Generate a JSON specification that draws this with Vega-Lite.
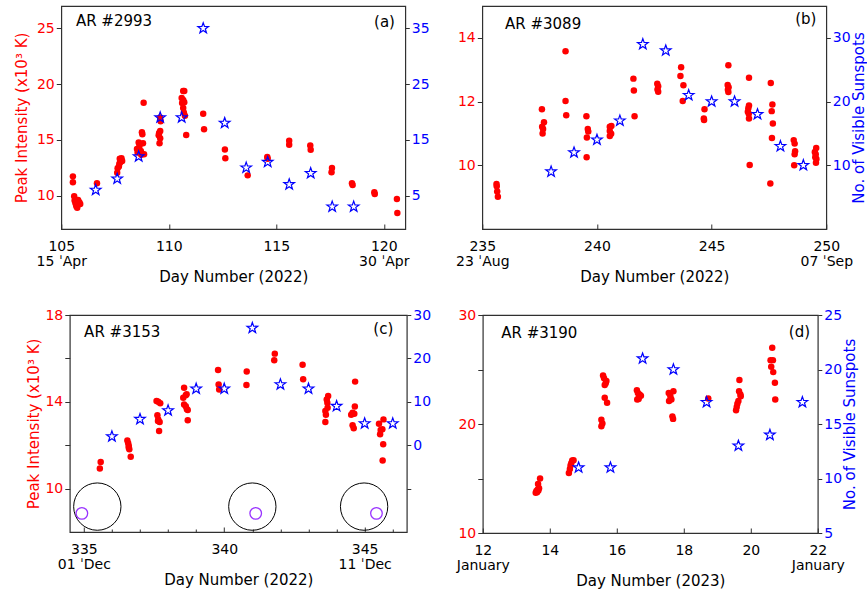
{
  "$schema": "https://vega.github.io/schema/vega-lite/v6.json",
  "autosize": {"type": "pad"},
  "padding": {"left": 13, "top": 5, "right": 0, "bottom": 0},
  "datasets": {
    "peak": [
      {"p":"a","d":105.54,"v":11.72},{"p":"a","d":105.54,"v":11.19},{"p":"a","d":105.6,"v":9.93},{"p":"a","d":105.62,"v":9.55},
      {"p":"a","d":105.66,"v":9.3},{"p":"a","d":105.7,"v":9.05},{"p":"a","d":105.74,"v":8.9},{"p":"a","d":105.8,"v":9.2},
      {"p":"a","d":105.84,"v":9.4},{"p":"a","d":105.88,"v":9.25},{"p":"a","d":105.78,"v":9.6},{"p":"a","d":105.72,"v":9.15},
      {"p":"a","d":106.66,"v":11.1},
      {"p":"a","d":107.6,"v":12.05},{"p":"a","d":107.62,"v":12.45},{"p":"a","d":107.68,"v":12.6},{"p":"a","d":107.7,"v":12.85},
      {"p":"a","d":107.75,"v":13.0},{"p":"a","d":107.78,"v":13.2},{"p":"a","d":107.8,"v":13.35},{"p":"a","d":107.72,"v":13.3},{"p":"a","d":107.83,"v":13.1},
      {"p":"a","d":108.52,"v":14.17},{"p":"a","d":108.55,"v":13.85},{"p":"a","d":108.6,"v":14.75},{"p":"a","d":108.63,"v":14.4},
      {"p":"a","d":108.66,"v":14.65},{"p":"a","d":108.7,"v":14.0},{"p":"a","d":108.75,"v":15.67},{"p":"a","d":108.77,"v":15.5},
      {"p":"a","d":108.8,"v":14.7},{"p":"a","d":108.83,"v":18.33},{"p":"a","d":108.85,"v":13.7},{"p":"a","d":108.72,"v":13.65},
      {"p":"a","d":109.6,"v":17.0},{"p":"a","d":109.62,"v":16.66},{"p":"a","d":109.6,"v":15.8},{"p":"a","d":109.55,"v":15.6},
      {"p":"a","d":109.53,"v":15.4},{"p":"a","d":109.6,"v":15.15},{"p":"a","d":109.57,"v":14.7},
      {"p":"a","d":110.6,"v":18.75},{"p":"a","d":110.67,"v":19.38},{"p":"a","d":110.72,"v":19.38},{"p":"a","d":110.67,"v":18.57},
      {"p":"a","d":110.72,"v":18.36},{"p":"a","d":110.62,"v":18.3},{"p":"a","d":110.67,"v":17.85},{"p":"a","d":110.7,"v":17.46},
      {"p":"a","d":110.75,"v":17.16},{"p":"a","d":110.81,"v":15.43},
      {"p":"a","d":111.6,"v":17.34},{"p":"a","d":111.64,"v":15.94},{"p":"a","d":112.61,"v":14.14},{"p":"a","d":112.63,"v":13.34},
      {"p":"a","d":113.67,"v":11.81},{"p":"a","d":114.58,"v":13.46},{"p":"a","d":114.6,"v":13.3},{"p":"a","d":115.6,"v":14.92},
      {"p":"a","d":115.6,"v":14.56},{"p":"a","d":116.58,"v":14.5},{"p":"a","d":116.6,"v":14.1},{"p":"a","d":117.59,"v":12.47},
      {"p":"a","d":117.57,"v":12.08},{"p":"a","d":118.52,"v":11.1},{"p":"a","d":118.55,"v":10.95},{"p":"a","d":119.56,"v":10.29},
      {"p":"a","d":119.58,"v":10.14},{"p":"a","d":120.61,"v":9.69},{"p":"a","d":120.63,"v":8.43},

      {"p":"b","d":235.62,"v":9.41},{"p":"b","d":235.63,"v":9.34},{"p":"b","d":235.65,"v":9.18},{"p":"b","d":235.68,"v":9.01},
      {"p":"b","d":237.6,"v":11.76},{"p":"b","d":237.69,"v":11.35},{"p":"b","d":237.61,"v":11.21},{"p":"b","d":237.65,"v":11.14},{"p":"b","d":237.63,"v":11.0},
      {"p":"b","d":238.63,"v":13.58},{"p":"b","d":238.63,"v":12.02},{"p":"b","d":238.66,"v":11.57},
      {"p":"b","d":239.54,"v":11.54},{"p":"b","d":239.6,"v":11.14},{"p":"b","d":239.62,"v":11.06},{"p":"b","d":239.56,"v":10.87},{"p":"b","d":239.55,"v":10.25},
      {"p":"b","d":240.56,"v":11.21},{"p":"b","d":240.63,"v":11.23},{"p":"b","d":240.56,"v":11.08},{"p":"b","d":240.62,"v":10.99},{"p":"b","d":240.56,"v":10.92},
      {"p":"b","d":241.59,"v":12.72},{"p":"b","d":241.61,"v":12.35},{"p":"b","d":241.64,"v":11.54},
      {"p":"b","d":242.63,"v":12.56},{"p":"b","d":242.67,"v":12.48},{"p":"b","d":242.64,"v":12.38},{"p":"b","d":242.67,"v":12.31},
      {"p":"b","d":243.67,"v":13.08},{"p":"b","d":243.64,"v":12.8},{"p":"b","d":243.77,"v":12.51},{"p":"b","d":243.74,"v":12.02},
      {"p":"b","d":244.69,"v":11.76},{"p":"b","d":244.66,"v":11.47},{"p":"b","d":244.67,"v":11.42},
      {"p":"b","d":245.73,"v":13.14},{"p":"b","d":245.7,"v":12.52},{"p":"b","d":245.74,"v":12.45},{"p":"b","d":245.71,"v":12.37},{"p":"b","d":245.73,"v":12.3},
      {"p":"b","d":246.63,"v":12.75},{"p":"b","d":246.63,"v":11.88},{"p":"b","d":246.6,"v":11.79},{"p":"b","d":246.58,"v":11.68},
      {"p":"b","d":246.62,"v":11.62},{"p":"b","d":246.63,"v":11.47},{"p":"b","d":246.66,"v":10.01},
      {"p":"b","d":247.58,"v":12.58},{"p":"b","d":247.65,"v":11.91},{"p":"b","d":247.62,"v":11.7},{"p":"b","d":247.67,"v":11.31},
      {"p":"b","d":247.63,"v":10.86},{"p":"b","d":247.56,"v":9.43},
      {"p":"b","d":248.58,"v":10.79},{"p":"b","d":248.62,"v":10.68},{"p":"b","d":248.64,"v":10.44},{"p":"b","d":248.62,"v":10.35},{"p":"b","d":248.6,"v":10.0},
      {"p":"b","d":249.56,"v":10.54},{"p":"b","d":249.5,"v":10.42},{"p":"b","d":249.54,"v":10.35},{"p":"b","d":249.52,"v":10.25},
      {"p":"b","d":249.57,"v":10.2},{"p":"b","d":249.55,"v":10.08},

      {"p":"c","d":335.57,"v":10.93},{"p":"c","d":335.6,"v":11.23},
      {"p":"c","d":336.55,"v":12.22},{"p":"c","d":336.58,"v":12.09},{"p":"c","d":336.6,"v":11.96},{"p":"c","d":336.62,"v":11.81},
      {"p":"c","d":336.67,"v":11.47},{"p":"c","d":336.6,"v":11.88},
      {"p":"c","d":337.59,"v":14.04},{"p":"c","d":337.65,"v":14.0},{"p":"c","d":337.72,"v":13.93},{"p":"c","d":337.62,"v":13.38},
      {"p":"c","d":337.65,"v":13.19},{"p":"c","d":337.7,"v":13.07},{"p":"c","d":337.64,"v":13.12},{"p":"c","d":337.68,"v":12.65},
      {"p":"c","d":338.57,"v":14.65},{"p":"c","d":338.54,"v":14.19},{"p":"c","d":338.63,"v":14.3},{"p":"c","d":338.66,"v":14.35},
      {"p":"c","d":338.57,"v":13.88},{"p":"c","d":338.63,"v":13.8},{"p":"c","d":338.7,"v":13.62},{"p":"c","d":338.67,"v":13.66},{"p":"c","d":338.7,"v":13.15},
      {"p":"c","d":339.78,"v":15.47},{"p":"c","d":339.8,"v":14.8},{"p":"c","d":339.82,"v":14.57},
      {"p":"c","d":340.8,"v":15.4},{"p":"c","d":340.79,"v":14.77},{"p":"c","d":341.8,"v":16.22},{"p":"c","d":341.78,"v":15.91},
      {"p":"c","d":342.79,"v":15.71},{"p":"c","d":342.81,"v":15.04},
      {"p":"c","d":343.7,"v":14.27},{"p":"c","d":343.65,"v":14.11},{"p":"c","d":343.67,"v":13.96},{"p":"c","d":343.68,"v":13.73},
      {"p":"c","d":343.6,"v":13.58},{"p":"c","d":343.62,"v":13.4},{"p":"c","d":343.6,"v":13.07},
      {"p":"c","d":344.66,"v":14.93},{"p":"c","d":344.65,"v":13.78},{"p":"c","d":344.57,"v":13.5},{"p":"c","d":344.63,"v":13.45},
      {"p":"c","d":344.52,"v":13.4},{"p":"c","d":344.57,"v":12.92},{"p":"c","d":344.61,"v":12.78},
      {"p":"c","d":345.67,"v":13.19},{"p":"c","d":345.51,"v":12.99},{"p":"c","d":345.57,"v":12.7},{"p":"c","d":345.63,"v":12.73},
      {"p":"c","d":345.55,"v":12.5},{"p":"c","d":345.66,"v":12.04},{"p":"c","d":345.64,"v":11.3},

      {"p":"d","d":13.58,"v":13.7},{"p":"d","d":13.6,"v":13.85},{"p":"d","d":13.62,"v":13.75},{"p":"d","d":13.64,"v":14.0},
      {"p":"d","d":13.66,"v":13.9},{"p":"d","d":13.68,"v":14.1},{"p":"d","d":13.65,"v":14.5},{"p":"d","d":13.71,"v":15.0},
      {"p":"d","d":14.57,"v":15.51},{"p":"d","d":14.6,"v":15.88},{"p":"d","d":14.62,"v":16.2},{"p":"d","d":14.67,"v":16.65},
      {"p":"d","d":14.71,"v":16.68},{"p":"d","d":14.64,"v":16.4},
      {"p":"d","d":15.54,"v":19.8},{"p":"d","d":15.57,"v":20.05},{"p":"d","d":15.54,"v":20.4},{"p":"d","d":15.59,"v":24.46},
      {"p":"d","d":15.62,"v":24.2},{"p":"d","d":15.64,"v":23.57},{"p":"d","d":15.69,"v":23.94},{"p":"d","d":15.67,"v":23.75},
      {"p":"d","d":15.64,"v":22.4},{"p":"d","d":15.71,"v":21.94},
      {"p":"d","d":16.6,"v":23.1},{"p":"d","d":16.63,"v":22.85},{"p":"d","d":16.68,"v":22.7},{"p":"d","d":16.72,"v":22.6},
      {"p":"d","d":16.65,"v":22.3},{"p":"d","d":16.61,"v":22.25},{"p":"d","d":16.66,"v":22.45},
      {"p":"d","d":17.55,"v":22.85},{"p":"d","d":17.6,"v":22.55},{"p":"d","d":17.56,"v":22.1},{"p":"d","d":17.63,"v":22.25},
      {"p":"d","d":17.69,"v":23.0},{"p":"d","d":17.66,"v":20.7},{"p":"d","d":17.68,"v":20.47},
      {"p":"d","d":18.73,"v":22.34},
      {"p":"d","d":19.66,"v":24.03},{"p":"d","d":19.65,"v":23.0},{"p":"d","d":19.69,"v":22.7},{"p":"d","d":19.7,"v":22.55},
      {"p":"d","d":19.63,"v":22.1},{"p":"d","d":19.6,"v":21.85},{"p":"d","d":19.58,"v":21.55},{"p":"d","d":19.56,"v":21.27},
      {"p":"d","d":20.64,"v":27.0},{"p":"d","d":20.59,"v":25.86},{"p":"d","d":20.66,"v":25.86},{"p":"d","d":20.61,"v":25.25},
      {"p":"d","d":20.67,"v":24.76},{"p":"d","d":20.72,"v":23.78},{"p":"d","d":20.73,"v":22.25}
    ],
    "spots": [
      {"p":"a","d":106.6,"n":6},{"p":"a","d":107.6,"n":8},{"p":"a","d":108.6,"n":12},{"p":"a","d":109.6,"n":19},
      {"p":"a","d":110.6,"n":19},{"p":"a","d":111.6,"n":35},{"p":"a","d":112.6,"n":18},{"p":"a","d":113.6,"n":10},
      {"p":"a","d":114.6,"n":11},{"p":"a","d":115.6,"n":7},{"p":"a","d":116.6,"n":9},{"p":"a","d":117.6,"n":3},{"p":"a","d":118.6,"n":3},
      {"p":"b","d":238,"n":9},{"p":"b","d":239,"n":12},{"p":"b","d":240,"n":14},{"p":"b","d":241,"n":17},
      {"p":"b","d":242,"n":29},{"p":"b","d":243,"n":28},{"p":"b","d":244,"n":21},{"p":"b","d":245,"n":20},
      {"p":"b","d":246,"n":20},{"p":"b","d":247,"n":18},{"p":"b","d":248,"n":13},{"p":"b","d":249,"n":10},
      {"p":"c","d":336,"n":2},{"p":"c","d":337,"n":6},{"p":"c","d":338,"n":8},{"p":"c","d":339,"n":13},
      {"p":"c","d":340,"n":13},{"p":"c","d":341,"n":27},{"p":"c","d":342,"n":14},{"p":"c","d":343,"n":13},
      {"p":"c","d":344,"n":9},{"p":"c","d":345,"n":5},{"p":"c","d":346,"n":5},
      {"p":"d","d":14.86,"n":11},{"p":"d","d":15.81,"n":11},{"p":"d","d":16.77,"n":21},{"p":"d","d":17.69,"n":20},
      {"p":"d","d":18.68,"n":17},{"p":"d","d":19.63,"n":13},{"p":"d","d":20.57,"n":14},{"p":"d","d":21.54,"n":17}
    ],
    "notes": [
      {"p":"a","kind":"name","d":105.68,"v":25.63,"t":"AR #2993"},{"p":"a","kind":"tag","d":120.52,"v":25.6,"t":"(a)"},
      {"p":"b","kind":"name","d":235.99,"v":14.42,"t":"AR #3089"},{"p":"b","kind":"tag","d":249.57,"v":14.6,"t":"(b)"},
      {"p":"c","kind":"name","d":335.01,"v":17.23,"t":"AR #3153"},{"p":"c","kind":"tag","d":346.02,"v":17.37,"t":"(c)"},
      {"p":"d","kind":"name","d":12.55,"v":28.33,"t":"AR #3190"},{"p":"d","kind":"tag","d":21.77,"v":28.4,"t":"(d)"}
    ],
    "disk": [
      {"kind":"limb","d":335.48,"v":9.17},{"kind":"limb","d":341.0,"v":9.17},{"kind":"limb","d":344.98,"v":9.17},
      {"kind":"region","d":334.93,"v":8.86},{"kind":"region","d":341.12,"v":8.86},{"kind":"region","d":345.42,"v":8.86}
    ]
  },
  "vconcat": [
    {
      "hconcat": [
        {
          "width": 344, "height": 223,
          "encoding": {"x": {"field": "d", "type": "quantitative", "scale": {"domain": [105, 121], "nice": false, "zero": false},
            "axis": {"values": [105, 110, 115, 120], "title": "Day Number (2022)", "tickSize": -5, "labelPadding": 15, "labelLineHeight": 15, "titlePadding": 1,
              "labelExpr": "datum.value == 105 ? ['105', '15 ˈApr'] : datum.value == 120 ? ['120', '30 ˈApr'] : datum.label"}}},
          "layer": [
            {
              "encoding": {"y": {"field": "v", "type": "quantitative", "scale": {"domain": [7, 27], "nice": false, "zero": false},
                "axis": {"orient": "left", "values": [10, 15, 20, 25], "title": "Peak Intensity (x10³ K)", "titleColor": "red", "labelColor": "red", "tickSize": 5, "labelPadding": 2, "titlePadding": 7}}},
              "layer": [
                {"data": {"name": "peak"}, "transform": [{"filter": "datum.p == 'a'"}], "mark": {"type": "circle", "color": "red", "size": 42, "opacity": 1}},
                {"data": {"name": "notes"}, "transform": [{"filter": "datum.p == 'a' && datum.kind == 'name'"}], "mark": {"type": "text", "align": "left", "baseline": "middle", "fontSize": 15, "color": "black"}, "encoding": {"text": {"field": "t", "type": "nominal"}}},
                {"data": {"name": "notes"}, "transform": [{"filter": "datum.p == 'a' && datum.kind == 'tag'"}], "mark": {"type": "text", "align": "right", "baseline": "middle", "fontSize": 15, "color": "black"}, "encoding": {"text": {"field": "t", "type": "nominal"}}}
              ]
            },
            {
              "data": {"name": "spots"}, "transform": [{"filter": "datum.p == 'a'"}],
              "mark": {"type": "point", "shape": "M0,-1L0.235,-0.324L0.951,-0.309L0.38,0.124L0.588,0.809L0,0.4L-0.588,0.809L-0.38,0.124L-0.951,-0.309L-0.235,-0.324Z", "filled": false, "color": "blue", "size": 125, "strokeWidth": 1.2, "opacity": 1},
              "encoding": {"y": {"field": "n", "type": "quantitative", "scale": {"domain": [-1, 39], "nice": false, "zero": false},
                "axis": {"orient": "right", "values": [5, 15, 25, 35], "title": null, "labelColor": "blue", "tickSize": 4, "labelPadding": 2}}}
            }
          ],
          "resolve": {"scale": {"y": "independent"}}
        },
        {
          "width": 344, "height": 223,
          "encoding": {"x": {"field": "d", "type": "quantitative", "scale": {"domain": [235, 250], "nice": false, "zero": false},
            "axis": {"values": [235, 240, 245, 250], "title": "Day Number (2022)", "tickSize": -5, "labelPadding": 15, "labelLineHeight": 15, "titlePadding": 1,
              "labelExpr": "datum.value == 235 ? ['235', '23 ˈAug'] : datum.value == 250 ? ['250', '07 ˈSep'] : datum.label"}}},
          "layer": [
            {
              "encoding": {"y": {"field": "v", "type": "quantitative", "scale": {"domain": [8, 15], "nice": false, "zero": false},
                "axis": {"orient": "left", "values": [10, 12, 14], "title": null, "labelColor": "red", "tickSize": 5, "labelPadding": 2}}},
              "layer": [
                {"data": {"name": "peak"}, "transform": [{"filter": "datum.p == 'b'"}], "mark": {"type": "circle", "color": "red", "size": 42, "opacity": 1}},
                {"data": {"name": "notes"}, "transform": [{"filter": "datum.p == 'b' && datum.kind == 'name'"}], "mark": {"type": "text", "align": "left", "baseline": "middle", "fontSize": 15, "color": "black"}, "encoding": {"text": {"field": "t", "type": "nominal"}}},
                {"data": {"name": "notes"}, "transform": [{"filter": "datum.p == 'b' && datum.kind == 'tag'"}], "mark": {"type": "text", "align": "right", "baseline": "middle", "fontSize": 15, "color": "black"}, "encoding": {"text": {"field": "t", "type": "nominal"}}}
              ]
            },
            {
              "data": {"name": "spots"}, "transform": [{"filter": "datum.p == 'b'"}],
              "mark": {"type": "point", "shape": "M0,-1L0.235,-0.324L0.951,-0.309L0.38,0.124L0.588,0.809L0,0.4L-0.588,0.809L-0.38,0.124L-0.951,-0.309L-0.235,-0.324Z", "filled": false, "color": "blue", "size": 125, "strokeWidth": 1.2, "opacity": 1},
              "encoding": {"y": {"field": "n", "type": "quantitative", "scale": {"domain": [0, 35], "nice": false, "zero": false},
                "axis": {"orient": "right", "values": [10, 20, 30], "title": "No. of Visible Sunspots", "titleColor": "blue", "titleAngle": 270, "titleBaseline": "top", "titlePadding": 1, "labelColor": "blue", "tickSize": 4, "labelPadding": 2}}}
            }
          ],
          "resolve": {"scale": {"y": "independent"}}
        }
      ],
      "spacing": 77,
      "bounds": "flush"
    },
    {
      "hconcat": [
        {
          "width": 337, "height": 217,
          "encoding": {"x": {"field": "d", "type": "quantitative", "scale": {"domain": [334.5, 346.5], "nice": false, "zero": false},
            "axis": {"values": [335, 336, 337, 338, 339, 340, 341, 342, 343, 344, 345, 346], "title": "Day Number (2022)",
              "tickSize": {"condition": {"test": "datum.value % 5 == 0", "value": -5}, "value": -3},
              "labelPadding": 15, "labelLineHeight": 15, "titlePadding": 1,
              "labelExpr": "datum.value == 335 ? ['335', '01 ˈDec'] : datum.value == 345 ? ['345', '11 ˈDec'] : datum.value == 340 ? '340' : ''"}}},
          "layer": [
            {
              "encoding": {"y": {"field": "v", "type": "quantitative", "scale": {"domain": [8, 18], "nice": false, "zero": false},
                "axis": {"orient": "left", "values": [10, 12, 14, 16, 18], "labelExpr": "datum.value % 4 == 2 ? datum.label : ''", "title": "Peak Intensity (x10³ K)", "titleColor": "red", "labelColor": "red", "tickSize": 5, "labelPadding": 2, "titlePadding": 3}}},
              "layer": [
                {"data": {"name": "disk"}, "transform": [{"filter": "datum.kind == 'limb'"}], "mark": {"type": "point", "shape": "circle", "filled": false, "color": "black", "size": 2240, "strokeWidth": 1, "opacity": 1}},
                {"data": {"name": "disk"}, "transform": [{"filter": "datum.kind == 'region'"}], "mark": {"type": "point", "shape": "circle", "filled": false, "color": "#9933ff", "size": 135, "strokeWidth": 1.3, "opacity": 1}},
                {"data": {"name": "peak"}, "transform": [{"filter": "datum.p == 'c'"}], "mark": {"type": "circle", "color": "red", "size": 42, "opacity": 1}},
                {"data": {"name": "notes"}, "transform": [{"filter": "datum.p == 'c' && datum.kind == 'name'"}], "mark": {"type": "text", "align": "left", "baseline": "middle", "fontSize": 15, "color": "black"}, "encoding": {"text": {"field": "t", "type": "nominal"}}},
                {"data": {"name": "notes"}, "transform": [{"filter": "datum.p == 'c' && datum.kind == 'tag'"}], "mark": {"type": "text", "align": "right", "baseline": "middle", "fontSize": 15, "color": "black"}, "encoding": {"text": {"field": "t", "type": "nominal"}}}
              ]
            },
            {
              "data": {"name": "spots"}, "transform": [{"filter": "datum.p == 'c'"}],
              "mark": {"type": "point", "shape": "M0,-1L0.235,-0.324L0.951,-0.309L0.38,0.124L0.588,0.809L0,0.4L-0.588,0.809L-0.38,0.124L-0.951,-0.309L-0.235,-0.324Z", "filled": false, "color": "blue", "size": 125, "strokeWidth": 1.2, "opacity": 1},
              "encoding": {"y": {"field": "n", "type": "quantitative", "scale": {"domain": [-20, 30], "nice": false, "zero": false},
                "axis": {"orient": "right", "values": [-10, 0, 10, 20, 30], "labelExpr": "datum.value < 0 ? '' : datum.label", "title": null, "labelColor": "blue", "tickSize": 4, "labelPadding": 2}}}
            }
          ],
          "resolve": {"scale": {"y": "independent"}}
        },
        {
          "width": 335, "height": 218,
          "encoding": {"x": {"field": "d", "type": "quantitative", "scale": {"domain": [12, 22], "nice": false, "zero": false},
            "axis": {"values": [12, 14, 16, 18, 20, 22], "title": "Day Number (2023)", "tickSize": -5, "labelPadding": 15, "labelLineHeight": 15, "titlePadding": 1,
              "labelExpr": "datum.value == 12 ? ['12', 'January'] : datum.value == 22 ? ['22', 'January'] : datum.label"}}},
          "layer": [
            {
              "encoding": {"y": {"field": "v", "type": "quantitative", "scale": {"domain": [10, 30], "nice": false, "zero": false},
                "axis": {"orient": "left", "values": [10, 15, 20, 25, 30], "labelExpr": "datum.value % 10 == 0 ? datum.label : ''", "title": null, "labelColor": "red", "tickSize": 5, "labelPadding": 2}}},
              "layer": [
                {"data": {"name": "peak"}, "transform": [{"filter": "datum.p == 'd'"}], "mark": {"type": "circle", "color": "red", "size": 42, "opacity": 1}},
                {"data": {"name": "notes"}, "transform": [{"filter": "datum.p == 'd' && datum.kind == 'name'"}], "mark": {"type": "text", "align": "left", "baseline": "middle", "fontSize": 15, "color": "black"}, "encoding": {"text": {"field": "t", "type": "nominal"}}},
                {"data": {"name": "notes"}, "transform": [{"filter": "datum.p == 'd' && datum.kind == 'tag'"}], "mark": {"type": "text", "align": "right", "baseline": "middle", "fontSize": 15, "color": "black"}, "encoding": {"text": {"field": "t", "type": "nominal"}}}
              ]
            },
            {
              "data": {"name": "spots"}, "transform": [{"filter": "datum.p == 'd'"}],
              "mark": {"type": "point", "shape": "M0,-1L0.235,-0.324L0.951,-0.309L0.38,0.124L0.588,0.809L0,0.4L-0.588,0.809L-0.38,0.124L-0.951,-0.309L-0.235,-0.324Z", "filled": false, "color": "blue", "size": 125, "strokeWidth": 1.2, "opacity": 1},
              "encoding": {"y": {"field": "n", "type": "quantitative", "scale": {"domain": [5, 25], "nice": false, "zero": false},
                "axis": {"orient": "right", "values": [5, 10, 15, 20, 25], "title": "No. of Visible Sunspots", "titleColor": "blue", "titleAngle": 270, "titleBaseline": "top", "titlePadding": 1, "labelColor": "blue", "tickSize": 4, "labelPadding": 2}}}
            }
          ],
          "resolve": {"scale": {"y": "independent"}}
        }
      ],
      "spacing": 76,
      "bounds": "flush"
    }
  ],
  "spacing": 22,
  "center": true,
  "config": {
    "font": "DejaVu Sans",
    "view": {"stroke": "#303030", "strokeWidth": 1.2},
    "axis": {"grid": false, "domain": false, "labelFont": "DejaVu Sans", "labelFontSize": 14, "labelColor": "black",
      "titleFont": "DejaVu Sans", "titleFontSize": 15, "titleFontWeight": "normal", "titleColor": "black",
      "tickColor": "#303030", "tickWidth": 1, "labelOverlap": false, "labelFlush": false, "labelBound": false},
    "text": {"font": "DejaVu Sans"}
  }
}
